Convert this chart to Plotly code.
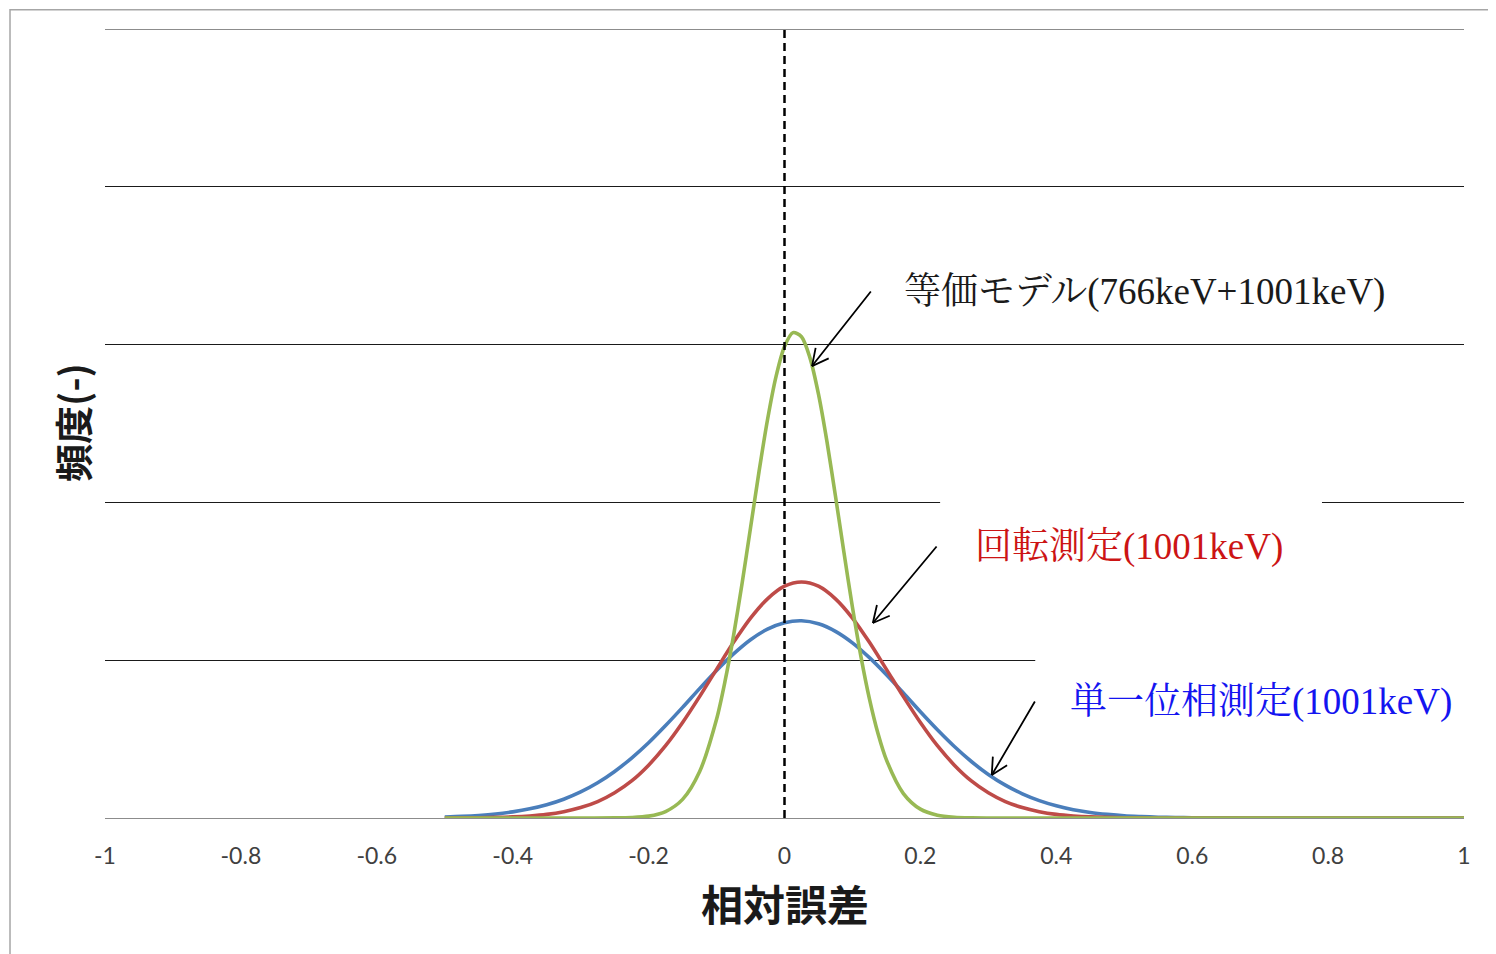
import math
import plotly.graph_objects as go

# ---- data ----
x_vals = [-0.5, -0.475, -0.45, -0.425, -0.4, -0.375, -0.35, -0.325, -0.3, -0.275,
          -0.25, -0.225, -0.2, -0.175, -0.15, -0.125, -0.1, -0.075, -0.05, -0.025,
          0.0, 0.025, 0.05, 0.075, 0.1, 0.125, 0.15, 0.175, 0.2, 0.225,
          0.25, 0.275, 0.3, 0.325, 0.35, 0.375, 0.4, 0.425, 0.45, 0.475,
          0.5, 0.525, 0.55, 0.575, 0.6, 0.625, 0.65, 0.7, 0.8, 0.9, 1.0]

single_phase = [0.006, 0.010, 0.016, 0.025, 0.039, 0.058, 0.084, 0.119, 0.165, 0.223,
                0.295, 0.380, 0.477, 0.586, 0.701, 0.820, 0.935, 1.040, 1.130, 1.197,
                1.238, 1.250, 1.231, 1.183, 1.110, 1.016, 0.908, 0.792, 0.673, 0.559,
                0.453, 0.358, 0.276, 0.208, 0.153, 0.110, 0.077, 0.052, 0.035, 0.023,
                0.014, 0.009, 0.005, 0.003, 0.002, 0.001, 0.0005, 0.0, 0.0, 0.0, 0.0]

rotation = [0.000, 0.001, 0.002, 0.004, 0.007, 0.013, 0.023, 0.040, 0.066, 0.104,
            0.160, 0.235, 0.335, 0.458, 0.605, 0.769, 0.942, 1.113, 1.267, 1.389,
            1.469, 1.496, 1.469, 1.389, 1.267, 1.113, 0.942, 0.769, 0.605, 0.458,
            0.335, 0.235, 0.160, 0.104, 0.066, 0.040, 0.023, 0.013, 0.007, 0.004,
            0.002, 0.001, 0.000, 0.0, 0.0, 0.0, 0.0, 0.0, 0.0, 0.0, 0.0]

# the narrow curve is read at a finer x spacing
x_eq = [-0.5, -0.4, -0.3, -0.25, -0.225, -0.2, -0.175, -0.15, -0.125, -0.1,
        -0.0875, -0.075, -0.0625, -0.05, -0.0375, -0.025, -0.0125, 0.0, 0.0125, 0.025,
        0.0375, 0.05, 0.0625, 0.075, 0.0875, 0.1, 0.1125, 0.125, 0.1375, 0.15,
        0.175, 0.2, 0.225, 0.25, 0.275, 0.3, 0.4, 0.6, 0.8, 1.0]
equivalent = [0.0, 0.0, 0.0, 0.0007, 0.003, 0.012, 0.041, 0.118, 0.293, 0.626,
              0.867, 1.156, 1.485, 1.839, 2.195, 2.524, 2.797, 2.988, 3.076, 3.050,
              2.916, 2.686, 2.385, 2.040, 1.682, 1.336, 1.023, 0.755, 0.537, 0.368,
              0.155, 0.056, 0.018, 0.005, 0.001, 0.0, 0.0, 0.0, 0.0, 0.0]

x_ticks = [-1, -0.8, -0.6, -0.4, -0.2, 0, 0.2, 0.4, 0.6, 0.8, 1]
x_tick_text = ["-1", "-0.8", "-0.6", "-0.4", "-0.2", "0", "0.2", "0.4", "0.6", "0.8", "1"]
y_grid = [1, 2, 3, 4, 5]

label_eq = "等価モデル(766keV+1001keV)"
label_rot = "回転測定(1001keV)"
label_single = "単一位相測定(1001keV)"
x_title = "相対誤差"
y_title = "頻度(-)"

# ---- figure ----
fig = go.Figure()
series = [
    (x_vals, single_phase, "#4A7EBB", label_single),
    (x_vals, rotation, "#BE4B48", label_rot),
    (x_eq, equivalent, "#98B954", label_eq),
]
for xs, ys, col, name in series:
    fig.add_trace(go.Scatter(x=xs, y=ys, mode="lines", name=name,
                             line=dict(color=col, width=3.6, shape="spline", smoothing=0.8),
                             hoverinfo="skip"))

serif = "Liberation Serif, Noto Serif CJK JP, Noto Sans CJK JP, serif"
sans_cjk = "Noto Sans CJK JP, sans-serif"

# white boxes behind annotation labels (hide gridlines there)
fig.add_shape(type="rect", xref="x", yref="y", x0=0.229, x1=0.791, y0=1.55, y1=2.3,
              fillcolor="white", line=dict(width=0), layer="between")
fig.add_shape(type="rect", xref="x", yref="y", x0=0.369, x1=1.02, y0=0.55, y1=1.3,
              fillcolor="white", line=dict(width=0), layer="between")

# top gridline (at the plot edge)
fig.add_shape(type="line", xref="x", yref="y", x0=-1, x1=1, y0=5, y1=5,
              line=dict(color="#1A1A1A", width=1), layer="between")

# dashed zero line
fig.add_shape(type="line", xref="x", yref="y", x0=0, x1=0, y0=0, y1=5,
              line=dict(color="black", width=2.5, dash="8px,5px"), layer="above")

# outer gray border (partially visible)
fig.add_shape(type="rect", xref="paper", yref="paper", x0=-0.0699, x1=1.2, y0=-0.4, y1=1.0245,
              line=dict(color="#A6A6A6", width=1.5), fillcolor="rgba(0,0,0,0)", layer="below")

annotations = [
    # labels
    dict(x=0.1729, y=3.333, xref="x", yref="y", text=label_eq, showarrow=False,
         xanchor="left", yanchor="middle", font=dict(family=serif, size=37, color="#1A1A1A")),
    dict(x=0.2774, y=1.717, xref="x", yref="y", text=label_rot, showarrow=False,
         xanchor="left", yanchor="middle", font=dict(family=serif, size=37, color="#CC1414")),
    dict(x=0.4172, y=0.735, xref="x", yref="y", text=label_single, showarrow=False,
         xanchor="left", yanchor="middle", font=dict(family=serif, size=37, color="#1414F0")),
    # axis titles
    dict(x=0.5004, y=-0.1077, xref="paper", yref="paper", text="<b>" + x_title + "</b>",
         showarrow=False, xanchor="center", yanchor="middle",
         font=dict(family=sans_cjk, size=42, color="#1A1A1A")),
    dict(x=-0.0243, y=0.502, xref="paper", yref="paper", text="<b>" + y_title + "</b>",
         showarrow=False, xanchor="center", yanchor="middle", textangle=-90,
         font=dict(family=sans_cjk, size=38, color="#1A1A1A")),
]


def open_arrow(tip_x, tip_y, tail_dx, tail_dy, head_len=20, head_ang=27):
    """Shaft plus two short arms forming an open V arrowhead (pixel offsets)."""
    base = dict(xref="x", yref="y", axref="pixel", ayref="pixel", text="",
                showarrow=True, arrowhead=0, arrowwidth=1.8, arrowcolor="black",
                x=tip_x, y=tip_y)
    out = [dict(base, ax=tail_dx, ay=tail_dy)]
    L = math.hypot(tail_dx, tail_dy)
    ux, uy = tail_dx / L, tail_dy / L
    for s in (1, -1):
        a = math.radians(head_ang) * s
        rx = ux * math.cos(a) - uy * math.sin(a)
        ry = ux * math.sin(a) + uy * math.cos(a)
        out.append(dict(base, ax=rx * head_len, ay=ry * head_len))
    return out


annotations += open_arrow(0.0405, 2.864, 60, -76)
annotations += open_arrow(0.130, 1.236, 65, -78)
annotations += open_arrow(0.305, 0.272, 44, -75)

fig.update_layout(
    width=1496, height=954,
    margin=dict(l=97, r=40, t=21, b=144),
    paper_bgcolor="white", plot_bgcolor="white",
    showlegend=False,
    annotations=annotations,
    xaxis=dict(range=[-1, 1], tickvals=x_ticks, ticktext=x_tick_text,
               showgrid=False, zeroline=False, showline=True, linecolor="#8C8C8C", linewidth=1,
               ticks="outside", ticklen=17, tickcolor="rgba(0,0,0,0)",
               tickfont=dict(family="Lato, Open Sans, sans-serif", size=23, color="#404040")),
    yaxis=dict(range=[0, 5], tickvals=y_grid, showticklabels=False,
               showgrid=True, gridcolor="#1A1A1A", gridwidth=1, zeroline=False, showline=False),
)

fig.write_html("out.html")
